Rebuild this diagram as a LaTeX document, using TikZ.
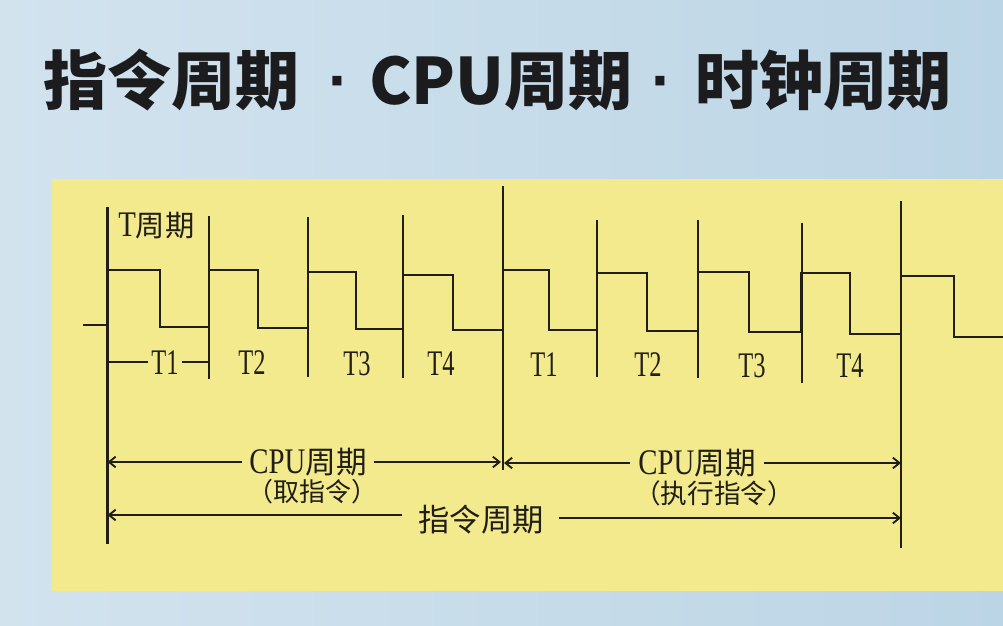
\documentclass[tikz,border=0pt]{standalone}
\usepackage{fontspec}
\usepackage{graphicx}
\setmainfont{Liberation Serif}
\newfontfamily\cjk{Noto Sans CJK SC}
\newfontfamily\dotfont{Liberation Sans}
\usetikzlibrary{arrows.meta}
\definecolor{bgleft}{HTML}{D2E3EE}
\definecolor{bgright}{HTML}{BCD5E6}
\definecolor{panel}{HTML}{F3EA8E}
\definecolor{ink}{HTML}{201E16}
\definecolor{titleink}{HTML}{1C1C1E}
\begin{document}
\begin{tikzpicture}[x=0.75pt,y=-0.75pt,
  sig/.style={line width=2pt, draw=ink, line join=miter},
  tick/.style={line width=2pt, draw=ink},
  arr/.style={line width=1.7pt, draw=ink, -{Straight Barb[length=5pt,width=8pt,line width=1.4pt]}},
  tlab/.style={inner sep=0pt, anchor=base, text=ink, font=\fontsize{27}{30}\selectfont},
  clab/.style={inner sep=0pt, text=ink},
  ttl/.style={inner sep=0pt, anchor=base west, text=titleink, font=\cjk\bfseries\fontsize{48}{52}\selectfont},
  tdot/.style={inner sep=0pt, anchor=base, text=titleink, font=\dotfont\bfseries\fontsize{48}{52}\selectfont}]
\shade[left color=bgleft, right color=bgright] (0,0) rectangle (1003,625);
\fill[panel] (52,179) rectangle (1003,591);
\useasboundingbox (0,0) rectangle (1003,625);

% title
\node[ttl] (ti1) at (43,104) {指令周期};
\node[tdot] (dot1) at (339,102) {·};
\node[ttl] (ti2) at (369,104) {CPU周期};
\node[tdot] (dot2) at (662,102) {·};
\node[ttl] (ti3) at (695,104) {时钟周期};

% tick lines
\foreach \n/\x/\t/\b in {0/107.5/207/544, 1/209/216/379, 2/308/217/377, 3/403/215/378,
                         4/503/186/470, 5/597/220/377, 6/698/220/378, 7/802/223/383, 8/901/201/548}{
  \coordinate (v\n t) at (\x,\t);
  \coordinate (v\n b) at (\x,\b);
  \draw[tick] (v\n t) -- (v\n b);
}

% clock signal
\draw[sig] (83,325) -- (107.5,325) -- (107.5,270) -- (160,270) -- (160,327) -- (209,327)
  -- (209,270) -- (258,270) -- (258,328) -- (308,328) -- (308,272) -- (356,272) -- (356,329)
  -- (403,329) -- (403,275) -- (453,275) -- (453,330) -- (503,330) -- (503,270) -- (549,270)
  -- (549,330) -- (597,330) -- (597,273) -- (647,273) -- (647,331) -- (698,331) -- (698,272)
  -- (749,272) -- (749,332) -- (801,332) -- (801,273) -- (850,273) -- (850,334) -- (901,334)
  -- (901,276) -- (954,276) -- (954,337) -- (1003,337);

% T labels
\node[clab, anchor=base west] (tp) at (118,236)
  {\scalebox{0.8}[1]{\fontsize{27}{30}\selectfont T}{\cjk\fontsize{22}{26}\selectfont 周期}};
\node[tlab] (t1) at (165,374) {\scalebox{0.68}[1]{T1}};
\node[tlab] (t2) at (252,374) {\scalebox{0.68}[1]{T2}};
\node[tlab] (t3) at (357,375) {\scalebox{0.68}[1]{T3}};
\node[tlab] (t4) at (441,375) {\scalebox{0.68}[1]{T4}};
\node[tlab] (u1) at (544,376) {\scalebox{0.68}[1]{T1}};
\node[tlab] (u2) at (648,376) {\scalebox{0.68}[1]{T2}};
\node[tlab] (u3) at (752,377) {\scalebox{0.68}[1]{T3}};
\node[tlab] (u4) at (850,377) {\scalebox{0.68}[1]{T4}};
\draw[tick] (v0t |- t1.west) -- ([xshift=-2.5pt]t1.west);
\draw[tick] ([xshift=2.5pt]t1.east) -- (v1t |- t1.east);

% CPU cycle labels
\node[clab, anchor=base] (cpu1) at (308,473)
  {\scalebox{0.8}[1]{\fontsize{27}{30}\selectfont CPU}{\cjk\fontsize{23}{26}\selectfont 周期}};
\node[clab, anchor=base] (cpu2) at (697,474)
  {\scalebox{0.8}[1]{\fontsize{27}{30}\selectfont CPU}{\cjk\fontsize{23}{26}\selectfont 周期}};
\node[clab, font=\cjk\fontsize{19.5}{22}\selectfont] (fetch) at (312,492) {（取指令）};
\node[clab, font=\cjk\fontsize{20}{23}\selectfont] (exec) at (714,493) {（执行指令）};
\node[clab, font=\cjk\fontsize{23.5}{26}\selectfont] (instr) at (481,520) {指令周期};

% arrows
\coordinate (a1l) at (107.5,462);
\coordinate (a1m) at (501,462);
\coordinate (a2m) at (504,463);
\coordinate (a2r) at (901,463);
\coordinate (b1l) at (107.5,515);
\coordinate (b1r) at (901,518);
\draw[arr] ([xshift=-5pt]cpu1.west |- a1l) -- (a1l);
\draw[arr] ([xshift=5pt]cpu1.east |- a1m) -- (a1m);
\draw[arr] ([xshift=-6pt]cpu2.west |- a2m) -- (a2m);
\draw[arr] ([xshift=6pt]cpu2.east |- a2r) -- (a2r);
\draw[arr] ([xshift=-12pt]instr.west |- b1l) -- (b1l);
\draw[arr] ([xshift=11pt]instr.east |- b1r) -- (b1r);
\end{tikzpicture}
\end{document}
